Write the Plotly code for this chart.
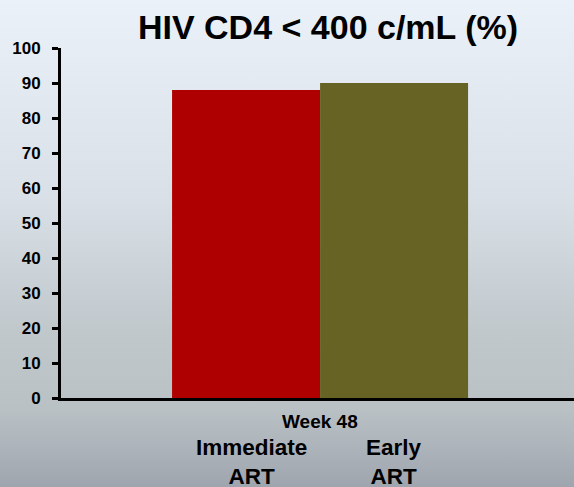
import plotly.graph_objects as go
import urllib.parse

categories = ["Week 48"]
groups = ["Immediate<br>ART", "Early<br>ART"]
immediate_values = [88]
early_values = [90]
y_ticks = [0, 10, 20, 30, 40, 50, 60, 70, 80, 90, 100]

W, H = 574, 487
L, R, T, B = 61, 0, 48, 89
pw, ph = W - L - R, H - T - B

svg = (
    "<svg xmlns='http://www.w3.org/2000/svg' width='574' height='487' preserveAspectRatio='none'>"
    "<defs><linearGradient id='g' x1='0' y1='0' x2='0' y2='1'>"
    "<stop offset='0' stop-color='#eaf1f9'/>"
    "<stop offset='0.4' stop-color='#d9e0e7'/>"
    "<stop offset='0.68' stop-color='#c1c8cc'/>"
    "<stop offset='0.84' stop-color='#bac1c5'/>"
    "<stop offset='1' stop-color='#9ea5ae'/>"
    "</linearGradient></defs><rect width='574' height='487' fill='url(#g)'/></svg>"
)
bg_uri = "data:image/svg+xml;charset=utf-8," + urllib.parse.quote(svg)

font_family = "Arial, 'Liberation Sans', sans-serif"

fig = go.Figure()
fig.add_trace(go.Bar(x=categories, y=immediate_values, marker=dict(color="#ae0000", line=dict(width=0)),
                     name="Immediate ART"))
fig.add_trace(go.Bar(x=categories, y=early_values, marker=dict(color="#676325", line=dict(width=0)),
                     name="Early ART"))

fig.update_layout(
    width=W, height=H,
    margin=dict(l=L, r=R, t=T, b=B),
    barmode="group", bargap=0.423, bargroupgap=0,
    showlegend=False,
    paper_bgcolor="#d0d7de", plot_bgcolor="rgba(0,0,0,0)",
    font=dict(family=font_family, color="black"),
    title=dict(text="HIV CD4 < 400 c/mL (%)", x=0.5205, xref="paper", xanchor="center",
               y=1 - 27 / H, yanchor="middle", font=dict(size=34, family=font_family, weight="bold")),
    images=[dict(source=bg_uri, xref="paper", yref="paper", x=-L / pw, y=1 + T / ph,
                 sizex=W / pw, sizey=H / ph, sizing="stretch", xanchor="left", yanchor="top",
                 layer="below")],
)
fig.update_yaxes(range=[0, 100], tickvals=y_ticks, showgrid=False, zeroline=False,
                 showline=True, linecolor="black", linewidth=3,
                 ticks="outside", ticklen=6, tickwidth=3, tickcolor="black",
                 tickfont=dict(size=17, family=font_family, weight="bold"),
                 ticklabelstandoff=8)
fig.update_xaxes(range=[-0.505, 0.495], showgrid=False, zeroline=False,
                 showline=True, linecolor="black", linewidth=3, ticks="",
                 showticklabels=False)

fig.add_annotation(x=0, y=0, xref="x", yref="y", yshift=-23.5, text=categories[0],
                   showarrow=False, font=dict(size=19, family=font_family, weight="bold"),
                   xanchor="center", yanchor="middle")
for xpos, label in zip([-0.1335, 0.144], groups):
    fig.add_annotation(x=xpos, y=0, xref="x", yref="y", yshift=-64, text=label,
                       showarrow=False, font=dict(size=22.5, family=font_family, weight="bold"),
                       xanchor="center", yanchor="middle")

fig.write_html("out.html", config={"displayModeBar": False},
               post_script="document.body.style.margin='0';document.body.style.overflow='hidden';")
